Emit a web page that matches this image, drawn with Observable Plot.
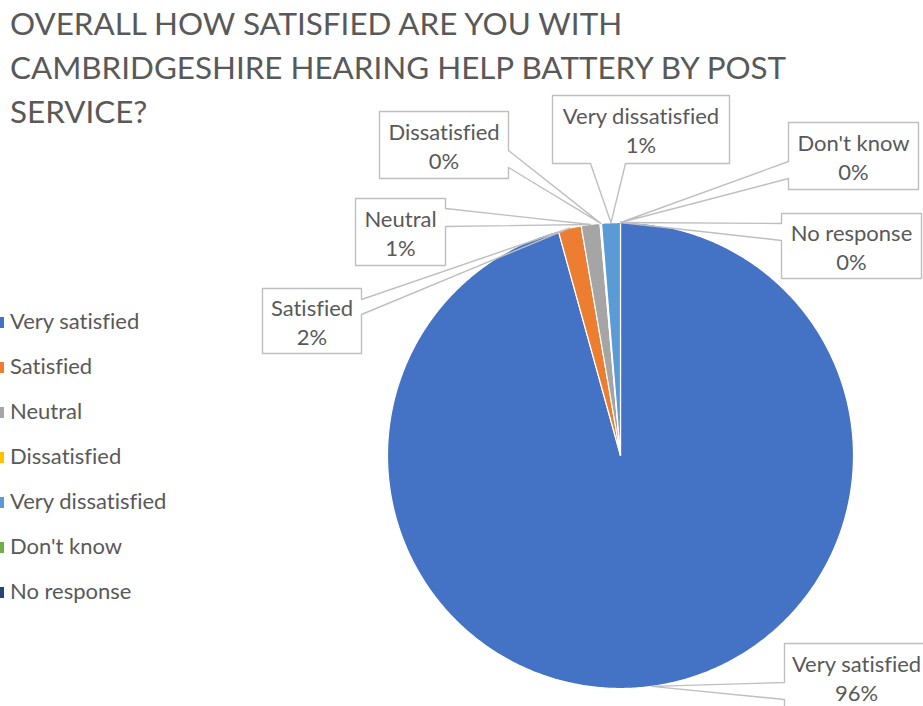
<!DOCTYPE html>
<html>
<head>
<meta charset="utf-8">
<script src="https://cdn.jsdelivr.net/npm/d3@7"></script>
<script src="https://cdn.jsdelivr.net/npm/@observablehq/plot@0.6"></script>
<style>
  html, body { margin: 0; padding: 0; background: #fff; overflow: hidden; }
  #wrap { position: relative; width: 923px; height: 706px; font-family: Lato, "Open Sans", sans-serif; color: #595959; font-variant-ligatures: none; }
  #wrap svg text { font-variant-ligatures: none; }
  #chart { position: absolute; left: 0; top: 0; }
  #title { position: absolute; left: 10px; top: 0; margin: 0; font-weight: 400; white-space: nowrap; }
  #title span { display: block; }
  #legend { position: absolute; left: 0; top: 0; }
  .lg { position: absolute; left: 0; white-space: nowrap; }
  .sw { position: absolute; left: -7px; width: 11px; height: 11px; }
</style>
</head>
<body>
<div id="wrap">
  <div id="chart"></div>
  <h1 id="title"></h1>
  <div id="legend"></div>
</div>
<script>
// ---- data ----
const categories = ["Very satisfied", "Satisfied", "Neutral", "Dissatisfied", "Very dissatisfied", "Don't know", "No response"];
const percentages = [95.7, 1.6, 1.3, 0.1, 1.3, 0, 0];
const colors = ["#4472C4", "#ED7D31", "#A5A5A5", "#FFC000", "#5B9BD5", "#70AD47", "#264478"];
const titleLines = ["OVERALL HOW SATISFIED ARE YOU WITH", "CAMBRIDGESHIRE HEARING HELP BATTERY BY POST", "SERVICE?"];

// ---- layout (pixels) ----
const W = 923, H = 706, CX = 620, CY = 455, R = 233;
const calloutLayout = [
  {cat: "Very satisfied",    box: [784, 643, 928, 710], side: "left",   span: [682, 699]},
  {cat: "Satisfied",         box: [262, 288, 361, 353], side: "right",  span: [299, 314]},
  {cat: "Neutral",           box: [355, 198, 445, 265], side: "right",  span: [208, 226]},
  {cat: "Dissatisfied",      box: [379, 111, 508, 178], side: "right",  span: [150, 167]},
  {cat: "Very dissatisfied", box: [552,  95, 729, 163], side: "bottom", span: [590, 625]},
  {cat: "Don't know",        box: [788, 122, 918, 189], side: "left",   span: [161, 178]},
  {cat: "No response",       box: [781, 213, 921, 278], side: "left",   span: [223, 240]}
];

// ---- font fitting ----
const ctx = document.createElement("canvas").getContext("2d");
function fitSize(text, target, family) {
  ctx.font = `100px ${family}`;
  return 100 * target / ctx.measureText(text).width;
}
const FAMILY = "Lato";
const labelSize = fitSize("Very dissatisfied", 157, FAMILY);
const titleSize = fitSize(titleLines[1], 780, FAMILY);

// ---- geometry helpers ----
const ux = p => (p - CX) / R;
const uy = p => (p - CY) / R;
const total = d3.sum(percentages);

const slices = [];
let cum = 0;
categories.forEach((c, i) => {
  const v = percentages[i];
  const a0 = 2 * Math.PI * cum / total;
  const a1 = 2 * Math.PI * (cum + v) / total;
  slices.push({cat: c, value: v, a0, a1, mid: (a0 + a1) / 2});
  cum += v;
});

const piePts = [];
for (const s of slices) {
  if (s.value <= 0) continue;
  const n = Math.max(2, Math.ceil((s.a1 - s.a0) / (Math.PI / 360)));
  piePts.push({cat: s.cat, x: 0, y: 0});
  for (let k = 0; k <= n; k++) {
    const a = s.a0 + (s.a1 - s.a0) * k / n;
    piePts.push({cat: s.cat, x: Math.sin(a), y: -Math.cos(a)});
  }
  piePts.push({cat: s.cat, x: 0, y: 0});
}

const calloutPts = [];
const calloutBoxes = [];
for (const c of calloutLayout) {
  const s = slices.find(d => d.cat === c.cat);
  const tip = [CX + R * Math.sin(s.mid), CY - R * Math.cos(s.mid)];
  const [L, T, Rr, B] = c.box;
  const [s0, s1] = c.span;
  let pts;
  if (c.side === "right") pts = [[L, T], [Rr, T], [Rr, s0], tip, [Rr, s1], [Rr, B], [L, B], [L, T]];
  else if (c.side === "left") pts = [[L, T], [Rr, T], [Rr, B], [L, B], [L, s1], tip, [L, s0], [L, T]];
  else pts = [[L, T], [Rr, T], [Rr, B], [s1, B], tip, [s0, B], [L, B], [L, T]];
  pts.forEach(p => calloutPts.push({cat: c.cat, x: ux(p[0]), y: uy(p[1])}));
  const pct = percentages[categories.indexOf(c.cat)];
  calloutBoxes.push({
    cat: c.cat, x1: ux(L), x2: ux(Rr), y1: uy(T), y2: uy(B),
    cx: ux((L + Rr) / 2), cy: uy((T + B) / 2),
    label: `${c.cat}\n${Math.round(pct)}%`
  });
}

const chart = Plot.plot({
  width: W, height: H,
  margin: 0,
  style: {background: "transparent", overflow: "visible"},
  x: {domain: [ux(0), ux(W)], range: [0, W], axis: null},
  y: {domain: [uy(0), uy(H)], range: [0, H], axis: null},
  color: {domain: categories, range: colors},
  marks: [
    Plot.line(piePts, {x: "x", y: "y", z: "cat", fill: "cat", stroke: "white", strokeWidth: 1.2, curve: "linear"}),
    Plot.rect(calloutBoxes, {x1: "x1", x2: "x2", y1: "y1", y2: "y2", fill: "white"}),
    Plot.line(calloutPts, {x: "x", y: "y", z: "cat", stroke: "#BFBFBF", strokeWidth: 1.4, fill: "none", curve: "linear"}),
    Plot.text(calloutBoxes, {
      x: "cx", y: "cy", text: "label", fill: "#595959",
      fontSize: labelSize, fontFamily: FAMILY, lineHeight: 29 / labelSize,
      textAnchor: "middle", lineAnchor: "middle"
    })
  ]
});
document.getElementById("chart").appendChild(chart);

// ---- title ----
const title = document.getElementById("title");
title.style.fontSize = titleSize + "px";
title.style.lineHeight = "44px";
title.style.top = "1px";
titleLines.forEach(t => {
  const sp = document.createElement("span");
  sp.textContent = t;
  title.appendChild(sp);
});

// ---- legend ----
const legend = document.getElementById("legend");
categories.forEach((c, i) => {
  const row = document.createElement("div");
  row.className = "lg";
  const cy = 321 + 45 * i;
  row.style.top = (cy - 12) + "px";
  row.style.height = "24px";
  const sw = document.createElement("div");
  sw.className = "sw";
  sw.style.background = colors[i];
  sw.style.top = "8px";
  const tx = document.createElement("span");
  tx.textContent = c;
  tx.style.position = "absolute";
  tx.style.left = "10px";
  tx.style.top = "0";
  tx.style.lineHeight = "24px";
  tx.style.fontSize = labelSize + "px";
  row.appendChild(sw);
  row.appendChild(tx);
  legend.appendChild(row);
});
</script>
</body>
</html>
